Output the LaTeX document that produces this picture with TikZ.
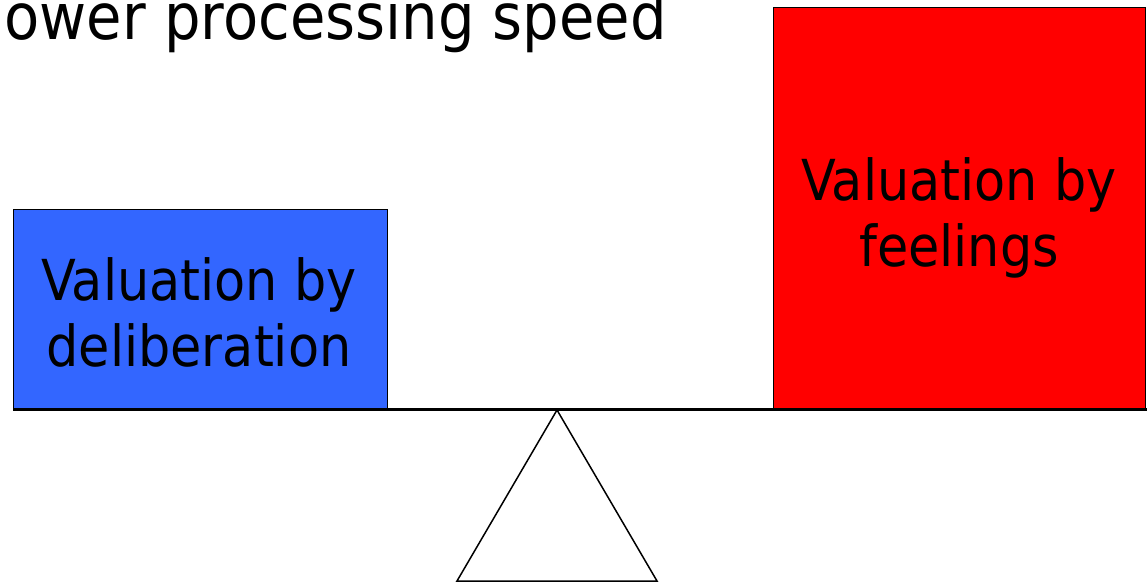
\documentclass[tikz,border=0pt]{standalone}
\usepackage{fontspec}
\setmainfont{DejaVu Sans Condensed}
\definecolor{boxblue}{HTML}{3366FF}
\definecolor{boxred}{HTML}{FF0000}
\begin{document}
\begin{tikzpicture}[x=1pt,y=1pt,
  pan/.style={draw=black, line width=1pt},
  boxtext/.style={align=center, inner sep=0pt, anchor=base,
    font=\fontsize{56.5}{66}\selectfont},
  beam/.style={line width=3pt},
  fulcrum/.style={line width=1.5pt, line join=miter}]
\useasboundingbox (0,0) rectangle (1147,583);
\node[inner sep=0pt, anchor=base east, font=\fontsize{64}{70}\selectfont] (title) at (667,543) {ower processing speed};
\node[pan, fill=boxblue, minimum width=374pt, minimum height=199pt, anchor=south west] (delib) at (13,174) {};
\node[pan, fill=boxred, minimum width=372pt, minimum height=401pt, anchor=south west] (feel) at (773,174) {};
\node[boxtext] (delibtext) at (199,216) {Valuation by\\deliberation};
\node[boxtext] (feeltext) at (959,316) {Valuation by\\feelings};
\coordinate (beamL) at (13,173);
\coordinate (beamR) at (1147,173);
\coordinate (apex) at (557,173);
\coordinate (baseL) at (457,2);
\coordinate (baseR) at (657,2);
\draw[beam] (beamL) -- (beamR);
\draw[fulcrum] (apex) -- (baseL) -- (baseR) -- cycle;
\end{tikzpicture}
\end{document}
